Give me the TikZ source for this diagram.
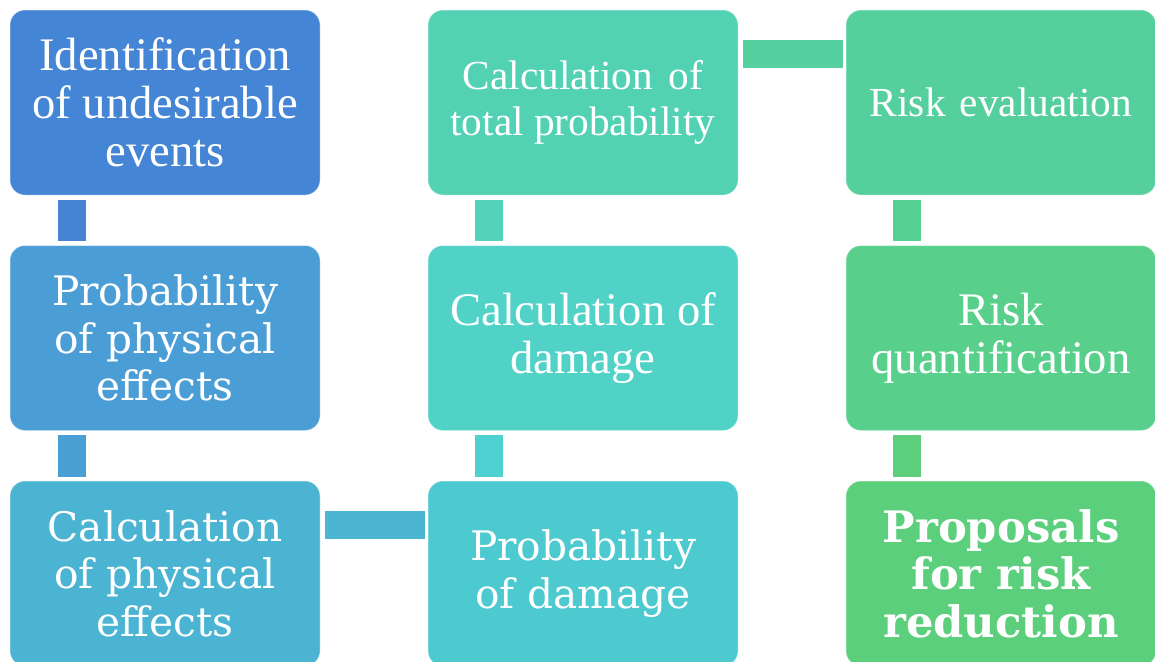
\documentclass[tikz,border=0pt]{standalone}
\usepackage{fontspec}
\setmainfont{Liberation Serif}
\newfontfamily\geo{DejaVu Serif}
\usetikzlibrary{calc}
\definecolor{cA}{HTML}{4585D5}
\definecolor{cB}{HTML}{4A9DD5}
\definecolor{cC}{HTML}{4BB4D2}
\definecolor{cD}{HTML}{4DC9D0}
\definecolor{cE}{HTML}{50D2C7}
\definecolor{cF}{HTML}{53D1B3}
\definecolor{cG}{HTML}{55D09C}
\definecolor{cH}{HTML}{58D08B}
\definecolor{cI}{HTML}{5BCF7C}
\definecolor{kA}{HTML}{4583D4}
\definecolor{kB}{HTML}{4A9FD4}
\definecolor{kC}{HTML}{4BB5D2}
\definecolor{kD}{HTML}{4FD0D1}
\definecolor{kE}{HTML}{52D3BA}
\definecolor{kF}{HTML}{55D09E}
\definecolor{kG}{HTML}{57D094}
\definecolor{kH}{HTML}{5BCF7E}
\begin{document}
\begin{tikzpicture}[x=0.75pt,y=-0.75pt,
  box/.style={rectangle, rounded corners=11.25pt, minimum width=232.5pt,
    minimum height=138.75pt, inner sep=0pt, text=white, align=center,
    draw=white, draw opacity=0.35, line width=0.75pt},
  times/.style={font=\fontsize{35}{36}\selectfont},
  timessm/.style={font=\fontsize{31}{34.5}\selectfont},
  geor/.style={font=\geo\fontsize{30.5}{35.5}\selectfont},
  georb/.style={font=\geo\bfseries\fontsize{32.5}{35.5}\selectfont},
  link/.style={line width=21pt}]
\useasboundingbox (0,0) rectangle (1155,661);
% column 1
\node[box, times, fill=cA] (n1) at (165,102.5) {Identification\\of undesirable\\events};
\node[box, geor, fill=cB] (n2) at (165,338) {Probability\\of physical\\effects};
\node[box, geor, fill=cC] (n3) at (165,573.5) {Calculation\\of physical\\effects};
% column 2
\node[box, geor, fill=cD] (n4) at (583,573.5) {Probability\\of damage};
\node[box, times, fill=cE] (n5) at (583,338) {Calculation of\\damage};
\node[box, timessm, fill=cF] (n6) at (583,102.5) {Calculation\hspace{4pt} of\\total probability};
% column 3
\node[box, timessm, fill=cG] (n7) at (1001,102.5) {Risk\hspace{3pt} evaluation};
\node[box, times, fill=cH] (n8) at (1001,338) {Risk\\quantification};
\node[box, georb, fill=cI] (n9) at (1001,573.5) {Proposals\\for risk\\reduction};
% connectors
\draw[link, kA] ($(n1.south west)+(62,4)$) -- ($(n2.north west)+(62,-4)$);
\draw[link, kB] ($(n2.south west)+(62,4)$) -- ($(n3.north west)+(62,-4)$);
\draw[link, kC] ($(n3.north east)+(4,44)$) -- ($(n4.north west)+(-3,44)$);
\draw[link, kD] ($(n4.north west)+(61.5,-4)$) -- ($(n5.south west)+(61.5,4)$);
\draw[link, kE] ($(n5.north west)+(61.5,-4)$) -- ($(n6.south west)+(61.5,4)$);
\draw[link, kF] ($(n6.north east)+(4,44.5)$) -- ($(n7.north west)+(-3,44.5)$);
\draw[link, kG] ($(n7.south west)+(61,4)$) -- ($(n8.north west)+(61,-4)$);
\draw[link, kH] ($(n8.south west)+(61,4)$) -- ($(n9.north west)+(61,-4)$);
\end{tikzpicture}
\end{document}
